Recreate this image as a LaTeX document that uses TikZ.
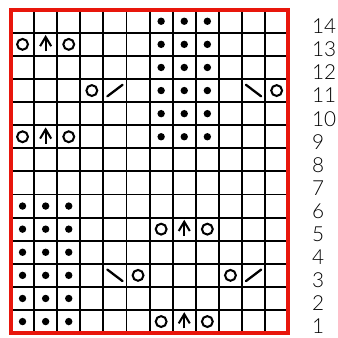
\documentclass[tikz,border=0pt]{standalone}
\usepackage{fontspec}
\setmainfont{Lato}[UprightFont=* Light]
\definecolor{chartred}{RGB}{232,22,12}

% chart symbols, #1 = column, #2 = row
\newcommand{\purl}[2]{\fill (#1-0.5,#2-0.5) circle (0.16);}
\newcommand{\yarnover}[2]{\draw[sym] (#1-0.5,#2-0.5) circle (0.235);}
\newcommand{\rightdec}[2]{\draw[slash] (#1-0.83,#2-0.75) -- (#1-0.17,#2-0.25);}
\newcommand{\leftdec}[2]{\draw[slash] (#1-0.83,#2-0.25) -- (#1-0.17,#2-0.75);}
\newcommand{\cdd}[2]{
  \draw[sym] (#1-0.5,#2-0.8) -- (#1-0.5,#2-0.18);
  \draw[sym] (#1-0.74,#2-0.58) -- (#1-0.5,#2-0.18) -- (#1-0.26,#2-0.58);
}

\tikzset{
  sym/.style={line width=1.5pt},
  slash/.style={line width=1.7pt, line cap=round},
  rownum/.style={anchor=west, inner sep=0pt, font=\fontsize{15.3}{16}\selectfont}
}

\begin{document}
\begin{tikzpicture}[scale=0.6]
    \useasboundingbox (-0.476,-0.173) rectangle (14.156,14.42);

    % Grid
    \draw[line width=1.4pt] (0,0) grid (12,14);

    % Purl blocks
    \foreach \c in {1,2,3}
        \foreach \r in {1,...,6} {\purl{\c}{\r}}
    \foreach \c in {7,8,9}
        \foreach \r in {9,...,14} {\purl{\c}{\r}}

    % Yarn over, double decrease, yarn over
    \foreach \c/\r in {2/13, 2/9, 8/5, 8/1} {
        \yarnover{\c-1}{\r}
        \cdd{\c}{\r}
        \yarnover{\c+1}{\r}
    }

    % Single decreases
    \yarnover{4}{11}
    \rightdec{5}{11}
    \leftdec{11}{11}
    \yarnover{12}{11}
    \leftdec{5}{3}
    \yarnover{6}{3}
    \yarnover{10}{3}
    \rightdec{11}{3}

    % Border
    \draw[chartred, line width=3pt] (0,0) rectangle (12,14);

    % Row numbers
    \foreach \r in {1,...,14}
        \node[rownum] (row\r) at (13.02,\r-0.72) {\r};
\end{tikzpicture}
\end{document}
